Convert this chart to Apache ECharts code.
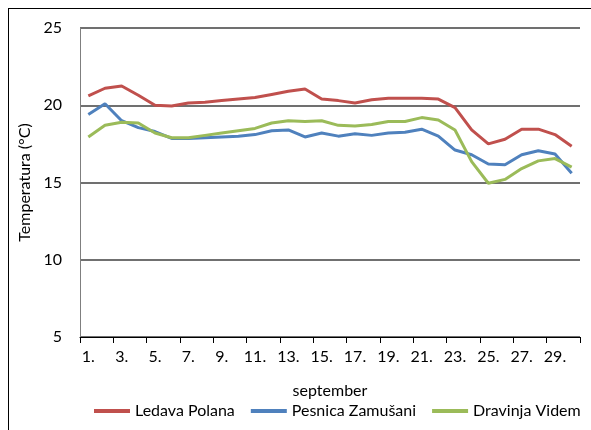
<!DOCTYPE html>
<html>
<head>
<meta charset="utf-8">
<script src="https://cdn.jsdelivr.net/npm/echarts@6/dist/echarts.min.js"></script>
<style>
  html, body { margin: 0; padding: 0; background: #fff; overflow: hidden; }
  #wrap { position: relative; width: 591px; height: 430px; }
  #chart { position: absolute; left: 0; top: 0; width: 591px; height: 430px; }
  #frame {
    position: absolute; left: 8px; top: 8px; width: 700px; height: 700px;
    border: 1px solid #000; box-sizing: border-box; pointer-events: none;
  }
</style>
</head>
<body>
<div id="wrap">
  <div id="chart"></div>
  <div id="frame"></div>
</div>
<script>
// Daily mean water temperature in September at three gauging stations
const days = ['1.', '2.', '3.', '4.', '5.', '6.', '7.', '8.', '9.', '10.',
  '11.', '12.', '13.', '14.', '15.', '16.', '17.', '18.', '19.', '20.',
  '21.', '22.', '23.', '24.', '25.', '26.', '27.', '28.', '29.', '30.'];

const seriesNames = ['Ledava Polana', 'Pesnica Zamušani', 'Dravinja Videm'];

const ledavaPolana = [20.6, 21.1, 21.25, 20.65, 20.0, 19.95, 20.15, 20.2, 20.3, 20.4,
  20.5, 20.7, 20.9, 21.05, 20.4, 20.3, 20.15, 20.35, 20.45, 20.45,
  20.45, 20.4, 19.85, 18.4, 17.5, 17.8, 18.45, 18.45, 18.1, 17.35];

const pesnicaZamusani = [19.4, 20.1, 19.0, 18.55, 18.3, 17.85, 17.85, 17.9, 17.95, 18.0,
  18.1, 18.35, 18.4, 17.95, 18.2, 18.0, 18.15, 18.05, 18.2, 18.25,
  18.45, 18.0, 17.1, 16.8, 16.2, 16.15, 16.8, 17.05, 16.85, 15.6];

const dravinjaVidem = [17.95, 18.7, 18.9, 18.85, 18.2, 17.9, 17.9, 18.05, 18.2, 18.35,
  18.5, 18.85, 19.0, 18.95, 19.0, 18.7, 18.65, 18.75, 18.95, 18.95,
  19.2, 19.05, 18.4, 16.35, 14.95, 15.2, 15.9, 16.4, 16.55, 16.0];

const colors = ['#C0504D', '#4F81BD', '#9BBB59'];
const font = 'Lato, Open Sans, sans-serif';

const chart = echarts.init(document.getElementById('chart'));

const makeLine = (name, data, color) => ({
  name: name,
  type: 'line',
  data: data,
  symbol: 'none',
  smooth: false,
  lineStyle: { color: color, width: 3 },
  itemStyle: { color: color }
});

chart.setOption({
  animation: false,
  grid: { left: 80, right: 11, top: 28, bottom: 93 },
  legend: {
    data: seriesNames,
    bottom: 6,
    left: 89,
    icon: 'rect',
    itemWidth: 36,
    itemHeight: 4,
    itemGap: 16,
    textStyle: { fontFamily: font, fontSize: 16, color: '#000' }
  },
  xAxis: {
    type: 'category',
    data: days,
    name: 'september',
    nameLocation: 'middle',
    nameGap: 46,
    nameTextStyle: { fontFamily: font, fontSize: 16, color: '#000' },
    axisLine: { lineStyle: { color: '#000', width: 1 } },
    axisTick: { show: true, interval: 1, length: 6, lineStyle: { color: '#000', width: 1 } },
    axisLabel: { interval: 1, fontFamily: font, fontSize: 16, color: '#000', margin: 12 }
  },
  yAxis: {
    type: 'value',
    min: 5,
    max: 25,
    interval: 5,
    name: 'Temperatura (°C)',
    nameLocation: 'middle',
    nameGap: 34,
    nameTextStyle: { fontFamily: font, fontSize: 16, color: '#000' },
    axisLine: { show: true, lineStyle: { color: '#7f7f7f', width: 1 } },
    axisTick: { show: false },
    axisLabel: { fontFamily: font, fontSize: 16, color: '#000', margin: 18 },
    splitLine: { show: true, lineStyle: { color: '#404040', width: 1.5 } }
  },
  series: [
    makeLine(seriesNames[0], ledavaPolana, colors[0]),
    makeLine(seriesNames[1], pesnicaZamusani, colors[1]),
    makeLine(seriesNames[2], dravinjaVidem, colors[2])
  ]
});
</script>
</body>
</html>
